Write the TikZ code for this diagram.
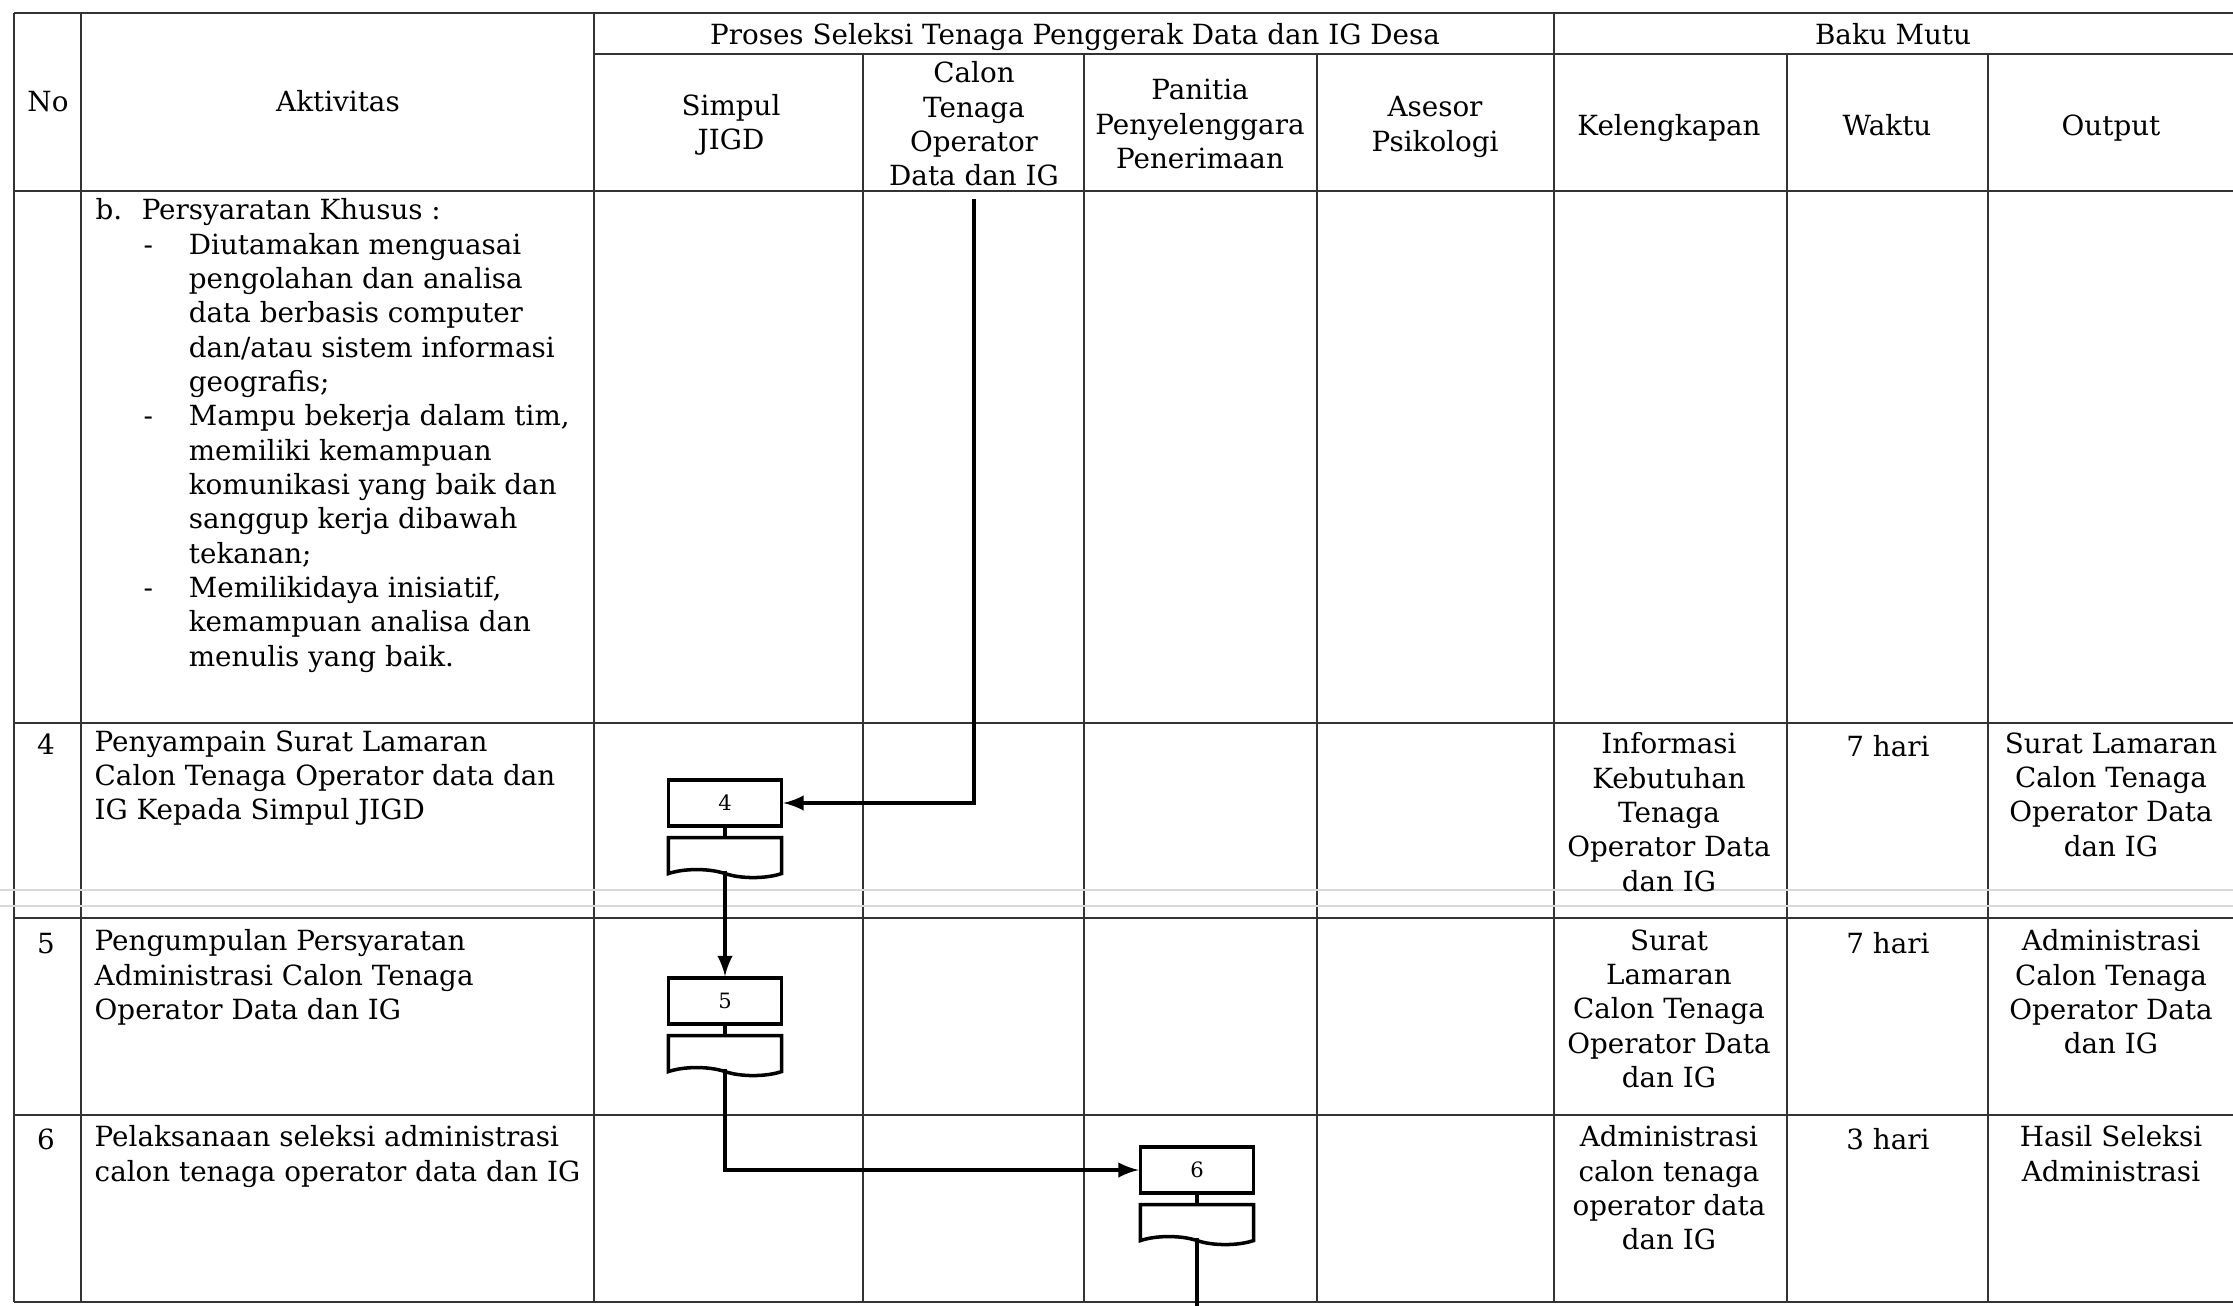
\documentclass[tikz,border=0pt]{standalone}
\usepackage{fontspec}
\setmainfont{DejaVu Serif}
\usetikzlibrary{arrows,positioning,shapes.symbols}

\newcommand{\dashln}{\hspace*{13.6pt}\makebox[12.9pt][l]{-}}
\newcommand{\contln}{\hspace*{26.5pt}}

\begin{document}
\begin{tikzpicture}[x=0.01cm,y=-0.01cm,
		grid/.style={black!80,line width=0.6pt},
		txt/.style={inner sep=0pt,font=\fontsize{7.9}{9.76}\selectfont,execute at begin node=\strut},
		hd/.style={txt,align=center},
		cell/.style={txt,align=center,anchor=north},
		act/.style={txt,align=left,anchor=north west},
		proc/.style={draw=black,line width=1pt,minimum width=1.13cm,minimum height=0.46cm,inner sep=0pt,font=\fontsize{6}{7}\selectfont},
		doc/.style={tape,tape bend top=none,tape bend bottom=out and in,tape bend height=0.08cm,draw=black,line width=1pt,minimum width=1.13cm,minimum height=0.40cm,inner sep=0pt},
		flow/.style={draw=black,line width=1pt,-latex}]
	\useasboundingbox (0,0) rectangle (2233,1306);
	% table grid
	\draw[grid] (14,13) -- (2233,13);
	\draw[grid] (594,54) -- (2233,54);
	\foreach \y in {191,723,918,1115,1302}
		\draw[grid] (14,\y) -- (2233,\y);
	\foreach \x in {14,81,594,1554}
		\draw[grid] (\x,13) -- (\x,1302);
	\foreach \x in {863,1084,1317,1787,1988}
		\draw[grid] (\x,54) -- (\x,1302);
	\draw[black!15,line width=0.4pt] (0,890) -- (2233,890) (0,906) -- (2233,906);
	% header
	\path 	(48,105) 	node (hno) 	[hd] {No}
			(338,105) 	node (hakt) [hd] {Aktivitas}
			(1075,38) 	node (hproses) [hd] {Proses Seleksi Tenaga Penggerak Data dan IG Desa}
			(1893,38) 	node (hbaku) [hd] {Baku Mutu}
			(731,127) 	node (hsimpul) [hd] {Simpul\\JIGD}
			(974,129) 	node (hcalon) [hd] {Calon\\Tenaga\\Operator\\Data dan IG}
			(1200,129) 	node (hpanitia) [hd] {Panitia\\Penyelenggara\\Penerimaan}
			(1435,129) 	node (hasesor) [hd] {Asesor\\Psikologi}
			(1669,129) 	node (hkel) [hd] {Kelengkapan}
			(1887,129) 	node (hwaktu) [hd] {Waktu}
			(2111,129) 	node (hout) [hd] {Output};
	% rows
	\path 	(95,198) 	node (bkhusus) [act] {\makebox[13.1pt][l]{b.}Persyaratan Khusus :\\
				\dashln Diutamakan menguasai\\ \contln pengolahan dan analisa\\ \contln data berbasis computer\\
				\contln dan/atau sistem informasi\\ \contln geografis;\\
				\dashln Mampu bekerja dalam tim,\\ \contln memiliki kemampuan\\ \contln komunikasi yang baik dan\\
				\contln sanggup kerja dibawah\\ \contln tekanan;\\
				\dashln Memilikidaya inisiatif,\\ \contln kemampuan analisa dan\\ \contln menulis yang baik.}
			(46,730) 	node (n4) [cell] {4}
			(94,730) 	node (a4) [act] {Penyampain Surat Lamaran\\Calon Tenaga Operator data dan\\IG Kepada Simpul JIGD}
			(1669,732) 	node (k4) [cell] {Informasi\\Kebutuhan\\Tenaga\\Operator Data\\dan IG}
			(1888,732) 	node (w4) [cell] {7 hari}
			(2111,732) 	node (o4) [cell] {Surat Lamaran\\Calon Tenaga\\Operator Data\\dan IG}
			(46,929) 	node (n5) [cell] {5}
			(94,929) 	node (a5) [act] {Pengumpulan Persyaratan\\Administrasi Calon Tenaga\\Operator Data dan IG}
			(1669,929) 	node (k5) [cell] {Surat\\Lamaran\\Calon Tenaga\\Operator Data\\dan IG}
			(1888,929) 	node (w5) [cell] {7 hari}
			(2111,929) 	node (o5) [cell] {Administrasi\\Calon Tenaga\\Operator Data\\dan IG}
			(46,1125) 	node (n6) [cell] {6}
			(94,1125) 	node (a6) [act] {Pelaksanaan seleksi administrasi\\calon tenaga operator data dan IG}
			(1669,1125) node (k6) [cell] {Administrasi\\calon tenaga\\operator data\\dan IG}
			(1888,1125) node (w6) [cell] {3 hari}
			(2111,1125) node (o6) [cell] {Hasil Seleksi\\Administrasi};
	% flow boxes
	\path 	(725,803) 	node (s4) [proc] {4}
			(725,1001) 	node (s5) [proc] {5}
			(1197,1170) node (s6) [proc] {6};
	\node (d4) [doc, below=0.08cm of s4] {};
	\node (d5) [doc, below=0.08cm of s5] {};
	\node (d6) [doc, below=0.08cm of s6] {};
	\coordinate (t0) at (974,199);
	\coordinate (e6) at (1197,1306);
	\draw [line width=1pt] (s4.south) -- (d4.north) (s5.south) -- (d5.north) (s6.south) -- (d6.north);
	\draw [flow] (t0) |- (s4.east);
	\draw [flow] (d4.south) -- (s5.north);
	\draw [flow] (d5.south) |- (s6.west);
	\draw [line width=1pt] (d6.south) -- (e6);
\end{tikzpicture}
\end{document}
